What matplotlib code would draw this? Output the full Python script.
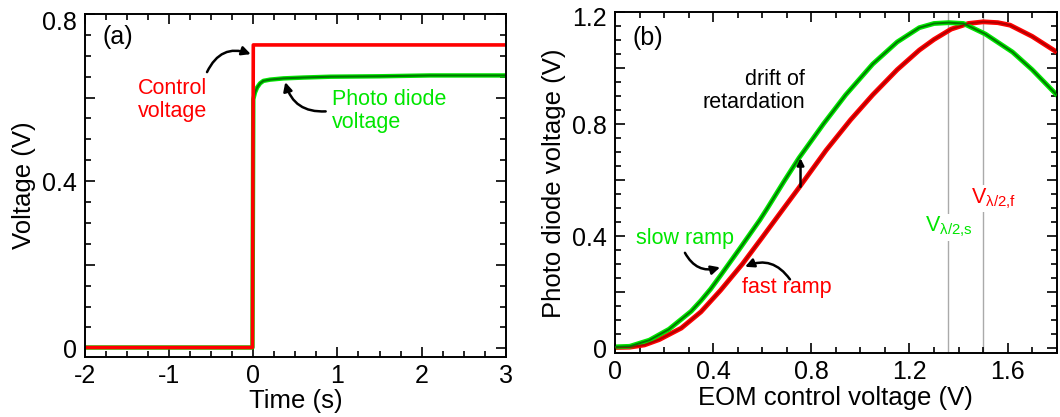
from matplotlib import pyplot as plt
from matplotlib.ticker import MultipleLocator
from matplotlib.transforms import ScaledTranslation

plt.rcParams['font.family'] = ['Liberation Sans', 'DejaVu Sans']
plt.rcParams['axes.unicode_minus'] = False
plt.rcParams['mathtext.default'] = 'regular'

RED = '#ff0000'
GREEN = '#00e600'
DKGREEN = '#007800'
DKRED = '#b00000'

# (a) step response: control voltage and photo diode voltage
t_ctrl = [-2, -0.01, 0.0, 3]
v_ctrl = [0.002, 0.002, 0.726, 0.726]
t_pd = [-2, -0.01, 0.0, 0.02, 0.045, 0.08, 0.12, 0.2, 0.36, 0.6, 0.92, 1.5, 2.1, 3]
v_pd = [0.002, 0.002, 0.596, 0.612, 0.624, 0.634, 0.640, 0.643, 0.646, 0.648, 0.650, 0.651, 0.653, 0.653]

# (b) photo diode voltage vs EOM control voltage, slow and fast ramp
eom_slow = [0.0, 0.06, 0.14, 0.22, 0.31, 0.35, 0.39, 0.43, 0.51, 0.59, 0.62, 0.69, 0.75, 0.85, 0.94,
            1.05, 1.15, 1.24, 1.30, 1.36, 1.42, 1.51, 1.62, 1.70, 1.80]
pd_slow = [0.005, 0.007, 0.029, 0.068, 0.132, 0.170, 0.212, 0.260, 0.358, 0.458, 0.499, 0.598, 0.680, 0.802,
           0.905, 1.015, 1.094, 1.145, 1.160, 1.163, 1.160, 1.122, 1.058, 0.995, 0.905]
eom_fast = [0.0, 0.06, 0.12, 0.18, 0.27, 0.35, 0.43, 0.52, 0.60, 0.69, 0.75, 0.86, 0.96, 1.05, 1.15,
            1.24, 1.30, 1.37, 1.44, 1.50, 1.56, 1.61, 1.70, 1.80]
pd_fast = [0.003, 0.004, 0.012, 0.031, 0.072, 0.130, 0.207, 0.302, 0.396, 0.503, 0.574, 0.707, 0.816, 0.905,
           0.995, 1.065, 1.103, 1.140, 1.160, 1.166, 1.163, 1.154, 1.114, 1.058]
v_half_slow = 1.358
v_half_fast = 1.50

fig = plt.figure(figsize=(10.6, 4.17), dpi=100)
ax1 = fig.add_axes([0.0802, 0.1446, 0.3969, 0.8218])
ax2 = fig.add_axes([0.5802, 0.1527, 0.4167, 0.8178])

arrow = dict(arrowstyle='-|>', color='k', lw=1.8, mutation_scale=13, shrinkA=0, shrinkB=0)
FS = 18      # ticks and axis labels
FA = 15.5    # annotations


def style(ax):
    for s in ax.spines.values():
        s.set_linewidth(1.4)
    ax.tick_params(which='both', direction='in', top=True, right=True, width=1.2,
                   labelsize=FS)
    ax.tick_params(axis='x', pad=5)
    ax.tick_params(axis='y', pad=6)
    ax.tick_params(which='major', length=7)
    ax.tick_params(which='minor', length=4)


def lower_top_label(ax, dy_pt):
    # the top y label sits a little below its tick in the original
    lab = ax.yaxis.get_major_ticks()[-1].label1
    lab.set_transform(lab.get_transform() + ScaledTranslation(0, -dy_pt / 72, fig.dpi_scale_trans))


# ---- panel (a)
ax1.plot(t_pd, v_pd, color=GREEN, lw=3.2, solid_joinstyle='round')
ax1.plot(t_pd[2:], v_pd[2:], color=DKGREEN, lw=1.5)
ax1.plot(t_ctrl, v_ctrl, color=RED, lw=2.6)
ax1.set_xlim(-2, 3)
ax1.set_ylim(-0.02, 0.8)
ax1.set_xticks([-2, -1, 0, 1, 2, 3])
ax1.xaxis.set_minor_locator(MultipleLocator(0.25))
ax1.set_yticks([0, 0.2, 0.4, 0.6, 0.8])
ax1.set_yticklabels(['0', '', '0.4', '', '0.8'])
ax1.yaxis.set_minor_locator(MultipleLocator(0.05))
style(ax1)
ax1.set_xlabel('Time (s)', fontsize=18.5, labelpad=1)
ax1.set_ylabel('Voltage (V)', fontsize=18.5, labelpad=4)
lower_top_label(ax1, 5)

ax1.text(-1.79, 0.746, '(a)', fontsize=FS, va='center')
ax1.text(-1.37, 0.594, 'Control\nvoltage', color=RED, fontsize=FA, va='center', linespacing=1.1)
ax1.annotate('', xy=(-0.03, 0.704), xytext=(-0.55, 0.661),
             arrowprops=dict(arrow, connectionstyle='arc3,rad=-0.45'))
ax1.text(0.93, 0.568, 'Photo diode\nvoltage', color=GREEN, fontsize=FA, va='center', linespacing=1.1)
ax1.annotate('', xy=(0.38, 0.637), xytext=(0.86, 0.567),
             arrowprops=dict(arrow, connectionstyle='arc3,rad=-0.4'))

# ---- panel (b)
ax2.axvline(v_half_slow, color='#aaaaaa', lw=1, zorder=1)
ax2.axvline(v_half_fast, color='#aaaaaa', lw=1, zorder=1)
ax2.plot(eom_fast, pd_fast, color=RED, lw=3.5, zorder=2, solid_joinstyle='round')
ax2.plot(eom_slow, pd_slow, color=GREEN, lw=3.5, zorder=2, solid_joinstyle='round')
ax2.plot(eom_fast, pd_fast, color=DKRED, lw=1.4, zorder=3)
ax2.plot(eom_slow, pd_slow, color=DKGREEN, lw=1.4, zorder=3)
ax2.set_xlim(0, 1.8)
ax2.set_ylim(-0.018, 1.2)
ax2.set_xticks([0, 0.4, 0.8, 1.2, 1.6])
ax2.set_xticklabels(['0', '0.4', '0.8', '1.2', '1.6'])
ax2.xaxis.set_minor_locator(MultipleLocator(0.1))
ax2.set_yticks([0, 0.2, 0.4, 0.6, 0.8, 1.0, 1.2])
ax2.set_yticklabels(['0', '', '0.4', '', '0.8', '', '1.2'])
ax2.yaxis.set_minor_locator(MultipleLocator(0.05))
style(ax2)
ax2.set_xlabel('EOM control voltage (V)', fontsize=18.5, labelpad=1)
ax2.set_ylabel('Photo diode voltage (V)', fontsize=18.5, labelpad=4)
lower_top_label(ax2, 3)

ax2.text(0.073, 1.11, '(b)', fontsize=FS, va='center')
ax2.text(0.086, 0.372, 'slow ramp', color=GREEN, fontsize=FA, va='baseline')
ax2.annotate('', xy=(0.428, 0.289), xytext=(0.285, 0.341),
             arrowprops=dict(arrow, connectionstyle='arc3,rad=0.4'))
ax2.text(0.516, 0.196, 'fast ramp', color=RED, fontsize=FA, va='baseline')
ax2.annotate('', xy=(0.53, 0.291), xytext=(0.713, 0.246),
             arrowprops=dict(arrow, connectionstyle='arc3,rad=0.4'))
ax2.text(0.774, 0.858, 'drift of\nretardation', fontsize=FA, ha='right', va='baseline',
         multialignment='right', linespacing=1.1)
ax2.annotate('', xy=(0.756, 0.679), xytext=(0.756, 0.577),
             arrowprops=dict(arrow, mutation_scale=10))
ax2.text(1.263, 0.416, r'V$_{λ/2{,}s}$', color=GREEN, fontsize=FA, va='baseline',
         bbox=dict(facecolor='white', edgecolor='none', pad=1), zorder=4)
ax2.text(1.45, 0.519, r'V$_{λ/2{,}f}$', color=RED, fontsize=FA, va='baseline',
         bbox=dict(facecolor='white', edgecolor='none', pad=1), zorder=4)

fig.savefig('out.png', dpi=100)
